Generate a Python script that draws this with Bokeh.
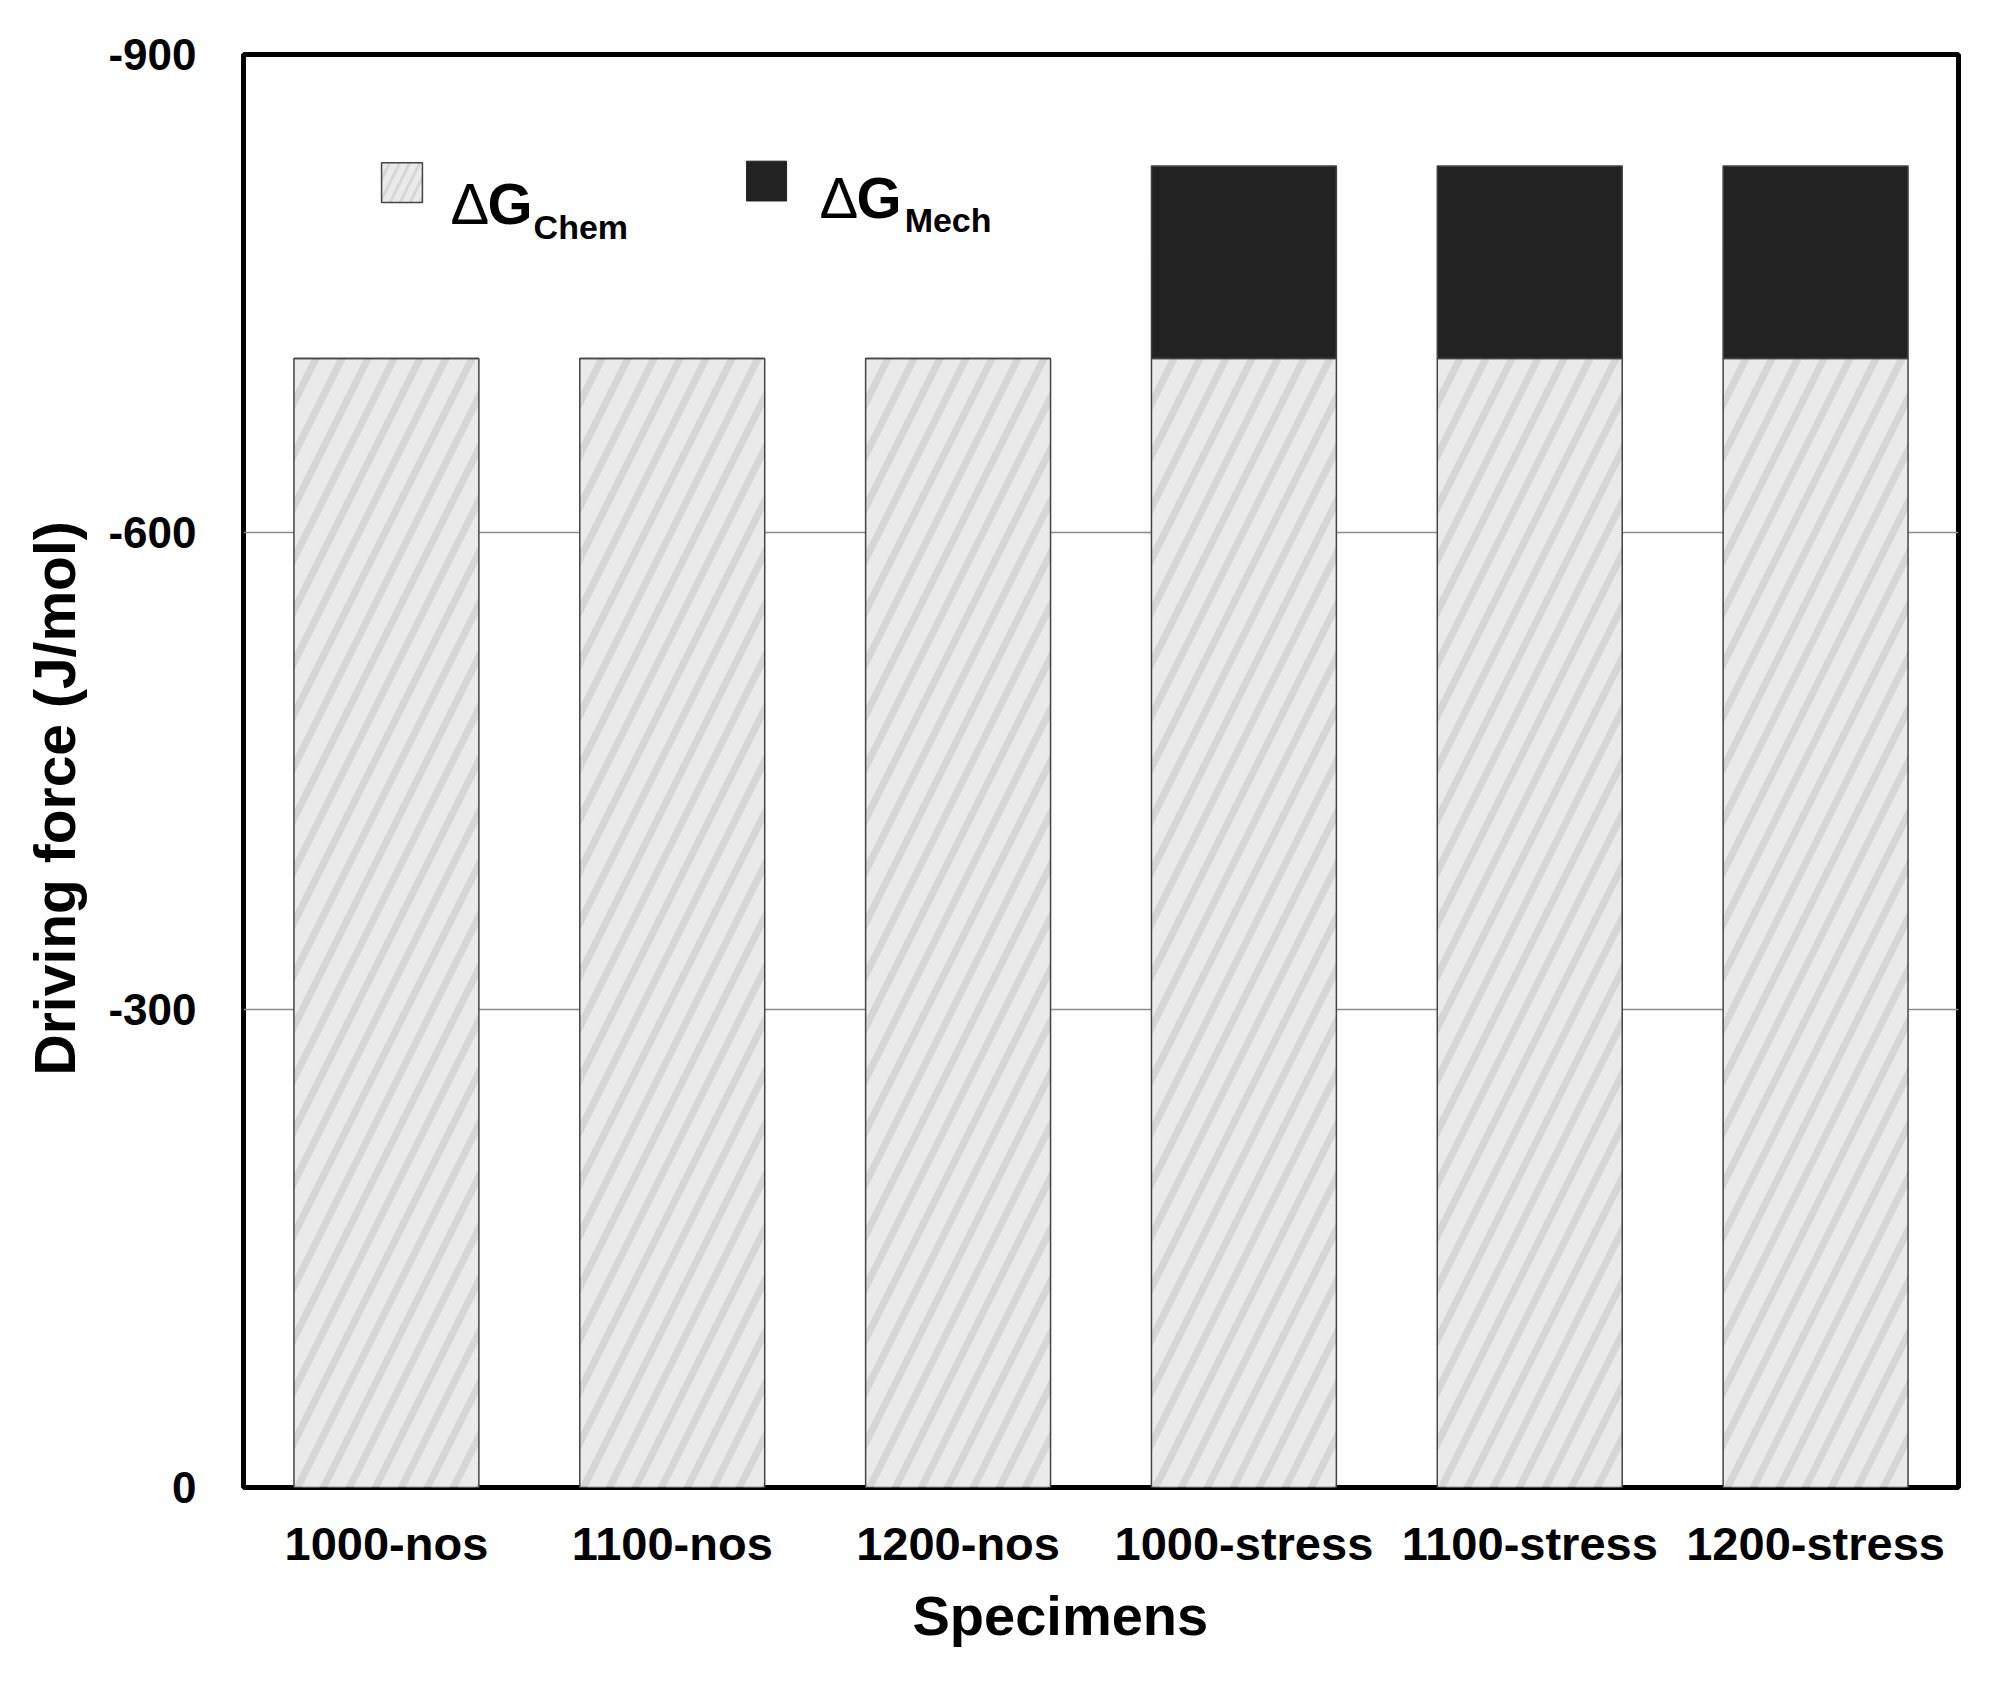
from bokeh.plotting import figure
from bokeh.models import Range1d, FactorRange, FixedTicker, Label, BoxAnnotation, ColumnDataSource, Title
from bokeh.embed import file_html
from bokeh.resources import INLINE

# ---- data ----
specimens = ["1000-nos", "1100-nos", "1200-nos", "1000-stress", "1100-stress", "1200-stress"]
dg_chem = [-709, -709, -709, -709, -709, -709]
dg_mech = [0, 0, 0, -121, -121, -121]
y_ticks = [0, -300, -600, -900]
y_tick_labels = ["0", "-300", "-600", "-900"]

chem_top = dg_chem
mech_bottom = dg_chem
mech_top = [c + m for c, m in zip(dg_chem, dg_mech)]
src = ColumnDataSource(dict(x=specimens, chem_top=chem_top, mech_bottom=mech_bottom,
                            mech_top=mech_top, zero=[0] * len(specimens)))

FONT = "Liberation Sans"

p = figure(x_range=FactorRange(*specimens, range_padding=0, factor_padding=0),
           y_range=Range1d(0, -900),
           width=1993, height=1678,
           output_backend="svg", toolbar_location=None,
           min_border_left=243, min_border_top=54, min_border_right=35, min_border_bottom=191)

p.background_fill_color = "white"
p.border_fill_color = "white"
p.outline_line_color = "black"
p.outline_line_width = 5

# grid
p.xgrid.grid_line_color = None
p.ygrid.grid_line_color = "#8c8c8c"
p.ygrid.grid_line_width = 1.5
p.yaxis.ticker = FixedTicker(ticks=y_ticks)
p.yaxis.major_label_overrides = {t: s for t, s in zip(y_ticks, y_tick_labels)}

# bars
chem_style = dict(fill_color="#d6d6d6", hatch_pattern="/", hatch_color="#eaeaea",
                  hatch_scale=52, hatch_weight=16, line_color="#444444", line_width=1.5)
p.vbar(x="x", bottom="zero", top="chem_top", width=0.647, source=src, **chem_style)
p.vbar(x="x", bottom="mech_bottom", top="mech_top", width=0.647, source=src,
       fill_color="#222222", line_color="#444444", line_width=1.5)

# axes
for ax in (p.xaxis[0], p.yaxis[0]):
    ax.axis_line_color = None
    ax.major_tick_line_color = None
    ax.minor_tick_line_color = None
    ax.major_label_text_font = FONT
    ax.major_label_text_font_style = "bold"
    ax.major_label_text_color = "black"

p.xaxis.major_label_text_font_size = "47px"
p.yaxis.major_label_text_font_size = "44px"
p.xaxis.major_label_standoff = 23
p.yaxis.major_label_standoff = 41

# axis titles as side titles (the reference places them off-centre)
ytitle = Title(text="Driving force (J/mol)", align="left", offset=412,
               text_font=FONT, text_font_style="bold", text_font_size="57px",
               text_color="black", standoff=37)
p.add_layout(ytitle, "left")
xtitle = Title(text="Specimens", align="left", offset=669,
               text_font=FONT, text_font_style="bold", text_font_size="56px",
               text_color="black", standoff=18)
p.add_layout(xtitle, "below")

# legend (drawn manually)
leg_boxes = [
    dict(left=0.483, right=0.626, top=-832, bottom=-807, chem=True),
    dict(left=1.760, right=1.900, top=-833, bottom=-808, chem=False),
]
for b in leg_boxes:
    if b["chem"]:
        box = BoxAnnotation(left=b["left"], right=b["right"], top=b["top"], bottom=b["bottom"],
                            fill_color="#d6d6d6", fill_alpha=1, hatch_pattern="/",
                            hatch_color="#eaeaea", hatch_scale=20, hatch_weight=6,
                            line_color="#444444", line_width=1.5, line_alpha=1)
    else:
        box = BoxAnnotation(left=b["left"], right=b["right"], top=b["top"], bottom=b["bottom"],
                            fill_color="#222222", fill_alpha=1, line_color="#222222", line_alpha=1)
    p.add_layout(box)

leg_texts = [
    # (x, y, text, size, style)
    (0.724, -806.5, "\u0394", "58px", "normal"),
    (0.854, -806.5, "G", "58px", "bold"),
    (1.015, -791.5, "Chem", "34px", "bold"),
    (2.015, -810.3, "\u0394", "58px", "normal"),
    (2.145, -810.3, "G", "58px", "bold"),
    (2.313, -795.9, "Mech", "34px", "bold"),
]
for x, y, t, s, st in leg_texts:
    p.add_layout(Label(x=x, y=y, text=t, text_font=FONT, text_font_size=s,
                       text_font_style=st, text_baseline="alphabetic", text_align="left",
                       text_color="black"))

open("out.html", "w").write(file_html(p, INLINE))
